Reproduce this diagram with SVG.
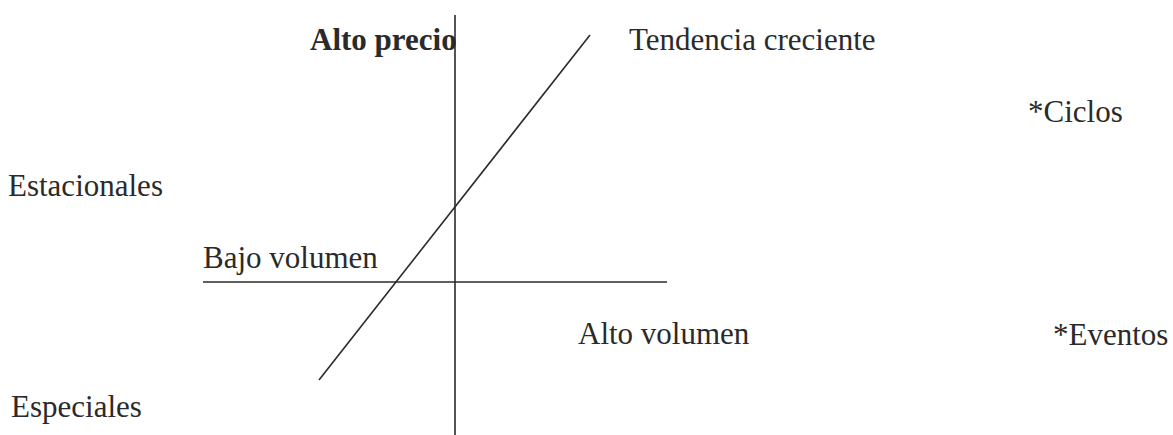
<svg xmlns="http://www.w3.org/2000/svg" width="1173" height="435" viewBox="0 0 1173 435">
<style>
text{font-family:"Liberation Serif","Times New Roman",serif;font-size:31px;fill:#2a2a2a}
.b{font-weight:bold}
.ln{stroke:#2a2a2a;stroke-width:1.6;fill:none}
</style>
<rect width="1173" height="435" fill="#fff"/>
<g id="connectors">
<line class="ln" x1="455" y1="15" x2="455" y2="435"/>
<line class="ln" x1="203" y1="282" x2="667" y2="282"/>
<line class="ln" x1="590" y1="35" x2="319" y2="380" stroke-width="2"/>
</g>
<g id="alto-precio"><text class="b" x="310" y="50">Alto precio</text></g>
<g id="tendencia"><text x="629" y="50">Tendencia creciente</text></g>
<g id="ciclos"><text x="1028" y="122">*Ciclos</text></g>
<g id="estacionales"><text x="8" y="196">Estacionales</text></g>
<g id="bajo-volumen"><text x="203" y="268">Bajo volumen</text></g>
<g id="alto-volumen"><text x="578" y="344">Alto volumen</text></g>
<g id="eventos"><text x="1053" y="345">*Eventos</text></g>
<g id="especiales"><text x="11" y="417">Especiales</text></g>
</svg>
